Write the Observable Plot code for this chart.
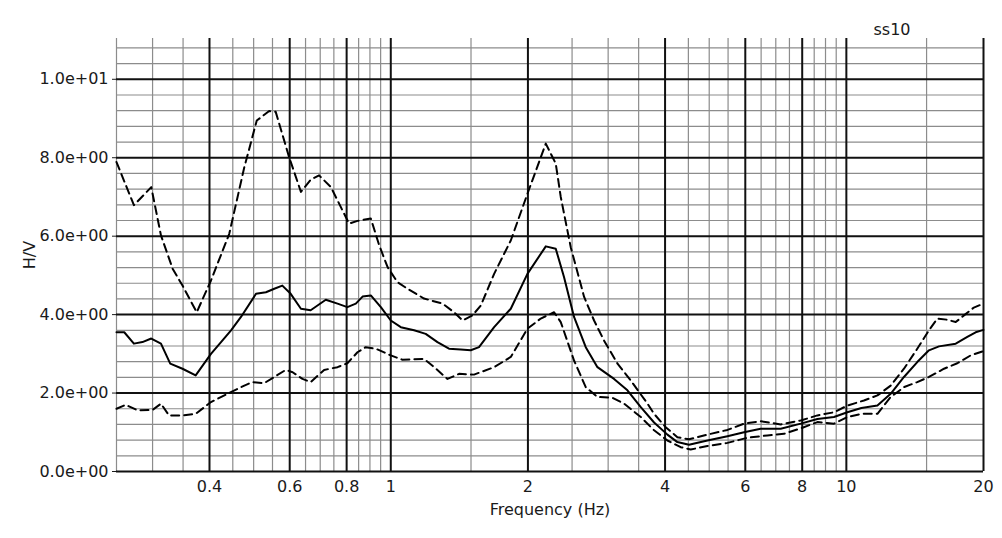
<!DOCTYPE html>
<html>
<head>
<meta charset="utf-8">
<script src="https://cdn.jsdelivr.net/npm/d3@7"></script>
<script src="https://cdn.jsdelivr.net/npm/@observablehq/plot@0.6"></script>
<style>
  body { margin: 0; background: #fff; }
  #chart svg { display: block; }
</style>
</head>
<body>
<div id="chart"></div>
<script>
// ---- Data (frequency in Hz, H/V ratio) ----
const freqUpper = [0.25, 0.273, 0.298, 0.313, 0.332, 0.349, 0.375, 0.403, 0.442, 0.477, 0.508, 0.541, 0.559, 0.598, 0.635, 0.667, 0.696, 0.739, 0.777, 0.810, 0.845, 0.904, 0.943, 0.984, 1.034, 1.088, 1.183, 1.299, 1.377, 1.437, 1.511, 1.576, 1.686, 1.834, 1.995, 2.189, 2.302, 2.361, 2.483, 2.657, 2.794, 2.938, 3.145, 3.363, 3.660, 3.784, 4.013, 4.257, 4.514, 4.955, 5.483, 5.962, 6.486, 7.176, 7.940, 8.640, 9.394, 10.05, 10.93, 11.70, 12.51, 13.38, 14.31, 15.18, 15.84, 16.66, 17.38, 18.12, 19.05, 20];
const hvUpper   = [7.89, 6.79, 7.25, 6.02, 5.17, 4.74, 4.06, 4.87, 6.06, 7.76, 8.95, 9.19, 9.17, 8.02, 7.13, 7.44, 7.55, 7.25, 6.74, 6.32, 6.39, 6.45, 5.77, 5.21, 4.83, 4.66, 4.41, 4.28, 4.06, 3.85, 3.98, 4.23, 5.04, 5.89, 7.08, 8.36, 7.85, 7.00, 5.72, 4.45, 3.85, 3.34, 2.75, 2.32, 1.73, 1.47, 1.13, 0.875, 0.82, 0.94, 1.06, 1.22, 1.28, 1.20, 1.30, 1.43, 1.51, 1.68, 1.81, 1.94, 2.19, 2.62, 3.13, 3.60, 3.90, 3.87, 3.81, 3.98, 4.18, 4.28];

const freqMean = [0.25, 0.260, 0.273, 0.285, 0.298, 0.313, 0.328, 0.349, 0.373, 0.403, 0.424, 0.446, 0.469, 0.506, 0.532, 0.555, 0.578, 0.603, 0.635, 0.667, 0.720, 0.764, 0.803, 0.838, 0.867, 0.904, 0.951, 1.0, 1.052, 1.125, 1.193, 1.266, 1.342, 1.424, 1.498, 1.562, 1.686, 1.834, 1.995, 2.189, 2.302, 2.400, 2.525, 2.679, 2.842, 3.091, 3.307, 3.538, 3.784, 4.048, 4.257, 4.514, 4.955, 5.483, 5.962, 6.486, 7.176, 7.940, 8.640, 9.394, 10.05, 10.79, 11.70, 12.51, 13.38, 14.31, 15.18, 15.97, 17.38, 18.43, 19.22, 20];
const hvMean   = [3.55, 3.55, 3.26, 3.30, 3.39, 3.26, 2.75, 2.62, 2.45, 3.00, 3.30, 3.60, 3.94, 4.53, 4.57, 4.66, 4.74, 4.53, 4.15, 4.11, 4.38, 4.28, 4.19, 4.28, 4.46, 4.49, 4.19, 3.85, 3.68, 3.60, 3.51, 3.30, 3.13, 3.11, 3.09, 3.17, 3.68, 4.15, 5.04, 5.74, 5.68, 4.96, 3.94, 3.17, 2.66, 2.36, 2.07, 1.64, 1.25, 0.94, 0.75, 0.68, 0.79, 0.90, 1.00, 1.09, 1.09, 1.22, 1.34, 1.39, 1.51, 1.62, 1.68, 1.98, 2.41, 2.79, 3.09, 3.19, 3.26, 3.43, 3.55, 3.61];

const freqLower = [0.25, 0.262, 0.278, 0.300, 0.313, 0.326, 0.349, 0.373, 0.403, 0.438, 0.477, 0.497, 0.527, 0.555, 0.588, 0.609, 0.640, 0.667, 0.714, 0.764, 0.803, 0.845, 0.881, 0.927, 1.0, 1.061, 1.183, 1.245, 1.332, 1.412, 1.523, 1.686, 1.834, 1.995, 2.134, 2.283, 2.361, 2.525, 2.679, 2.842, 3.066, 3.251, 3.538, 3.784, 4.048, 4.329, 4.553, 4.955, 5.483, 6.066, 6.708, 7.297, 7.940, 8.640, 9.394, 10.05, 10.79, 11.70, 12.51, 13.38, 14.31, 15.18, 16.38, 17.52, 18.74, 20];
const hvLower   = [1.60, 1.70, 1.56, 1.57, 1.73, 1.43, 1.43, 1.47, 1.77, 1.98, 2.19, 2.28, 2.25, 2.41, 2.59, 2.53, 2.36, 2.28, 2.59, 2.66, 2.76, 3.04, 3.17, 3.13, 2.96, 2.85, 2.87, 2.66, 2.36, 2.49, 2.47, 2.66, 2.92, 3.64, 3.90, 4.06, 3.81, 2.83, 2.15, 1.90, 1.88, 1.73, 1.39, 1.05, 0.79, 0.62, 0.56, 0.65, 0.73, 0.86, 0.92, 0.96, 1.10, 1.26, 1.22, 1.39, 1.47, 1.47, 1.90, 2.15, 2.28, 2.41, 2.62, 2.76, 2.96, 3.07];

// ---- Tick / grid values ----
const xMajor = [0.4, 0.6, 0.8, 1, 2, 4, 6, 8, 10, 20];
const xMinor = [0.25, 0.3, 0.35, 0.45, 0.5, 0.55, 0.65, 0.7, 0.75, 0.85, 0.9, 0.95, 1.5, 2.5, 3, 3.5, 4.5, 5, 5.5, 6.5, 7, 7.5, 8.5, 9, 9.5, 15];
const yMajor = [0, 2, 4, 6, 8, 10];
const yMinor = [0.4, 0.8, 1.2, 1.6, 2.4, 2.8, 3.2, 3.6, 4.4, 4.8, 5.2, 5.6, 6.4, 6.8, 7.2, 7.6, 8.4, 8.8, 9.2, 9.6, 10.4, 10.8];
const titleText = ["ss10"];

function fmtExp(v) {
  const [m, e] = v.toExponential(1).split("e");
  const sign = e[0] === "-" ? "-" : "+";
  const digits = e.replace(/[+-]/, "").padStart(2, "0");
  return `${m}e${sign}${digits}`;
}

const chart = Plot.plot({
  width: 1002,
  height: 538,
  marginTop: 38,
  marginBottom: 67,
  marginLeft: 116,
  marginRight: 19,
  style: { fontFamily: "'DejaVu Sans', sans-serif", fontSize: "16px", color: "#1a1a1a", background: "#fff" },
  x: { type: "log", domain: [0.25, 20] },
  y: { domain: [0, 11.04] },
  marks: [
    Plot.ruleY(yMinor, { stroke: "#8c8c8c", strokeWidth: 1.2 }),
    Plot.ruleX(xMinor, { stroke: "#8c8c8c", strokeWidth: 1.2 }),
    Plot.ruleY(yMajor, { stroke: "#111", strokeWidth: 2 }),
    Plot.ruleX(xMajor, { stroke: "#111", strokeWidth: 2 }),
    Plot.axisX({ ticks: [], tickSize: 0,
      label: "Frequency (Hz)", labelAnchor: "center", labelArrow: "none", labelOffset: 43 }),
    Plot.text(xMajor, { x: d => d, text: d => String(d), frameAnchor: "bottom", lineAnchor: "top",
      dy: 9, fontSize: 16, fill: "#1a1a1a" }),
    Plot.axisY({ ticks: yMajor, tickFormat: fmtExp, tickSize: 4, tickPadding: 4,
      label: "H/V", labelAnchor: "center", labelArrow: "none", labelOffset: 93 }),
    Plot.line(freqUpper, { x: freqUpper, y: hvUpper, stroke: "#000", strokeWidth: 2, strokeDasharray: "8,5" }),
    Plot.line(freqLower, { x: freqLower, y: hvLower, stroke: "#000", strokeWidth: 2, strokeDasharray: "8,5" }),
    Plot.line(freqMean, { x: freqMean, y: hvMean, stroke: "#000", strokeWidth: 2 }),
    Plot.text(titleText, { text: d => d, frameAnchor: "top-right", dx: -73, dy: -4, textAnchor: "end", lineAnchor: "bottom", fontSize: 16, fill: "#1a1a1a" })
  ]
});
document.getElementById("chart").appendChild(chart);
</script>
</body>
</html>
